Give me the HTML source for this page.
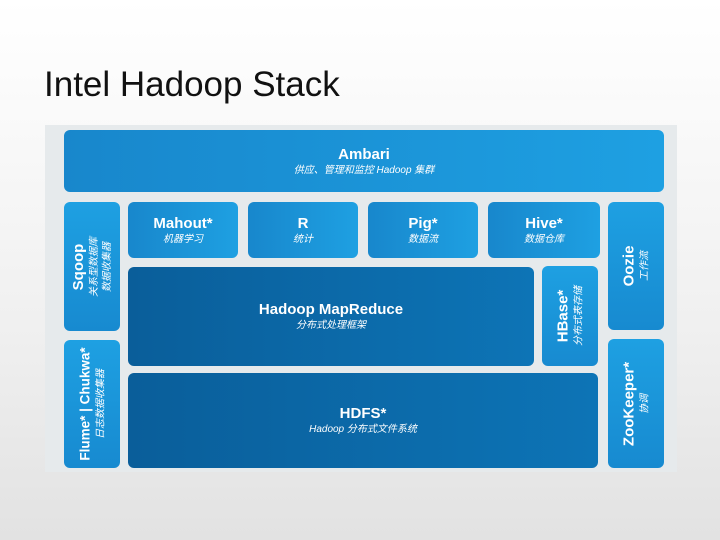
<!DOCTYPE html>
<html><head><meta charset="utf-8"><style>
body{margin:0;width:720px;height:540px;background:linear-gradient(#fff,#f0f0f0 60%,#e2e2e2);font-family:"Liberation Sans","Noto Sans CJK SC",sans-serif;position:relative;overflow:hidden}
h1{position:absolute;left:44px;top:65px;margin:0;font-weight:normal;font-size:35px;color:#111}
.panel{position:absolute;left:45px;top:125px;width:632px;height:347px;background:#e6eaec}
.b{position:absolute;border-radius:6px;color:#fff;text-align:center;background:linear-gradient(90deg,#1887cc,#1ea0e2);display:flex;flex-direction:column;justify-content:center;align-items:center}
.t{font-size:15px;font-weight:bold;line-height:18px}
.s{font-size:10px;font-style:italic;line-height:13px}
.d{background:linear-gradient(90deg,#0a5e9a,#0d74b6)}
.v{position:absolute;border-radius:6px;color:#fff;background:linear-gradient(180deg,#1ea0e2,#178ad0)}
.v .in{position:absolute;left:50%;top:50%;transform:translate(-50%,-50%) rotate(-90deg);white-space:nowrap;text-align:center}
</style></head><body>
<h1>Intel Hadoop Stack</h1>
<div class="panel"></div>
<div class="b" style="left:64px;top:130px;width:600px;height:62px"><div class="t">Ambari</div><div class="s">供应、管理和监控 Hadoop 集群</div></div>
<div class="b" style="left:128px;top:202px;width:110px;height:56px"><div class="t">Mahout*</div><div class="s">机器学习</div></div>
<div class="b" style="left:248px;top:202px;width:110px;height:56px"><div class="t">R</div><div class="s">统计</div></div>
<div class="b" style="left:368px;top:202px;width:110px;height:56px"><div class="t">Pig*</div><div class="s">数据流</div></div>
<div class="b" style="left:488px;top:202px;width:112px;height:56px"><div class="t">Hive*</div><div class="s">数据仓库</div></div>
<div class="b d" style="left:128px;top:267px;width:406px;height:99px"><div class="t">Hadoop MapReduce</div><div class="s">分布式处理框架</div></div>
<div class="b d" style="left:128px;top:373px;width:470px;height:95px"><div class="t">HDFS*</div><div class="s">Hadoop 分布式文件系统</div></div>
<div class="v" style="left:64px;top:202px;width:56px;height:129px"><div class="in"><div class="t">Sqoop</div><div class="s">关系型数据库<br>数据收集器</div></div></div>
<div class="v" style="left:608px;top:202px;width:56px;height:128px"><div class="in"><div class="t">Oozie</div><div class="s">工作流</div></div></div>
<div class="v" style="left:542px;top:266px;width:56px;height:100px"><div class="in"><div class="t">HBase*</div><div class="s">分布式表存储</div></div></div>
<div class="v" style="left:64px;top:340px;width:56px;height:128px"><div class="in"><div class="t" style="font-size:13.5px">Flume* | Chukwa*</div><div class="s">日志数据收集器</div></div></div>
<div class="v" style="left:608px;top:339px;width:56px;height:129px"><div class="in"><div class="t">ZooKeeper*</div><div class="s">协调</div></div></div>
</body></html>
